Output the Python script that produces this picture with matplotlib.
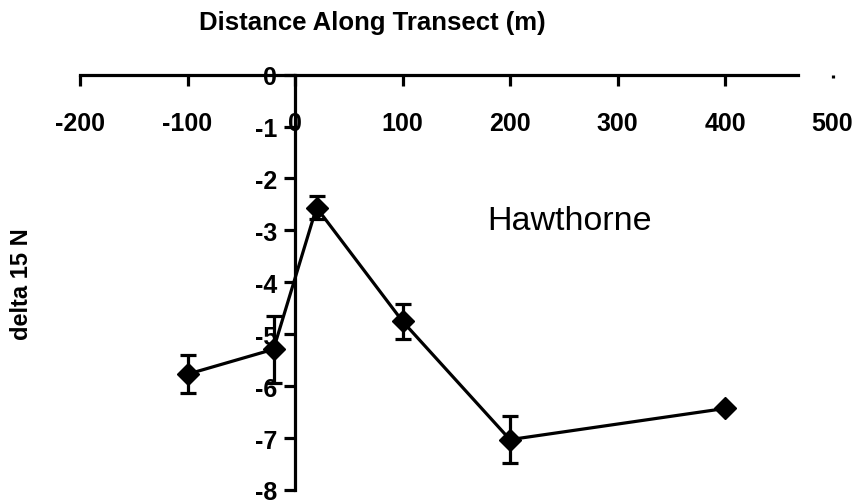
import matplotlib.pyplot as plt
import numpy as np

plt.rcParams['font.family'] = ['Liberation Sans', 'DejaVu Sans']

# distance along transect (m) and delta 15 N means with error
dist = [-100, -20, 20, 100, 200, 400]
d15n = [-5.77, -5.29, -2.56, -4.75, -7.03, -6.43]
err = [0.37, 0.64, 0.22, 0.34, 0.45, 0.0]
xticks = [-200, -100, 0, 100, 200, 300, 400, 500]
yticks = [0, -1, -2, -3, -4, -5, -6, -7, -8]

fig = plt.figure(figsize=(8.55, 5.02), dpi=100)
ax = fig.add_axes([80/855, 1 - 491/502, (832.5 - 80)/855, (491 - 75.6)/502])

ax.errorbar(dist, d15n, yerr=err, color='black', lw=2.3, marker='D', ms=11.5,
            capsize=5.5, capthick=2.3, elinewidth=2.3)

ax.set_xlim(-200, 500)
ax.set_ylim(-8, 0)

# axes cross at the origin, like the old spreadsheet chart
ax.spines['left'].set_position(('data', 0))
ax.spines['bottom'].set_position(('data', 0))
ax.spines['bottom'].set_bounds(-200, 468)
ax.spines['top'].set_visible(False)
ax.spines['right'].set_visible(False)
for s in ['left', 'bottom']:
    ax.spines[s].set_linewidth(2.3)

ax.set_xticks(xticks)
ax.set_xticklabels([str(t) for t in xticks], fontsize=18, fontweight='bold')
ax.set_yticks(yticks)
ax.set_yticklabels([str(t) for t in yticks], fontsize=18, fontweight='bold')
ax.tick_params(axis='x', direction='out', length=8, width=2.3, pad=18)
ax.tick_params(axis='y', direction='out', length=8, width=2.3, pad=5)
ax.xaxis.get_major_ticks()[-1].tick1line.set_markersize(2)

fig.text(372/855, 1 - 23/502, 'Distance Along Transect (m)', ha='center', va='center',
         fontsize=18.5, fontweight='bold')
fig.text(22/855, 1 - 284/502, 'delta 15 N', ha='center', va='center', rotation=90,
         fontsize=17, fontweight='bold')
ax.text(255, -2.98, 'Hawthorne', ha='center', va='baseline', fontsize=24.5)

fig.savefig('out.png', dpi=100)
